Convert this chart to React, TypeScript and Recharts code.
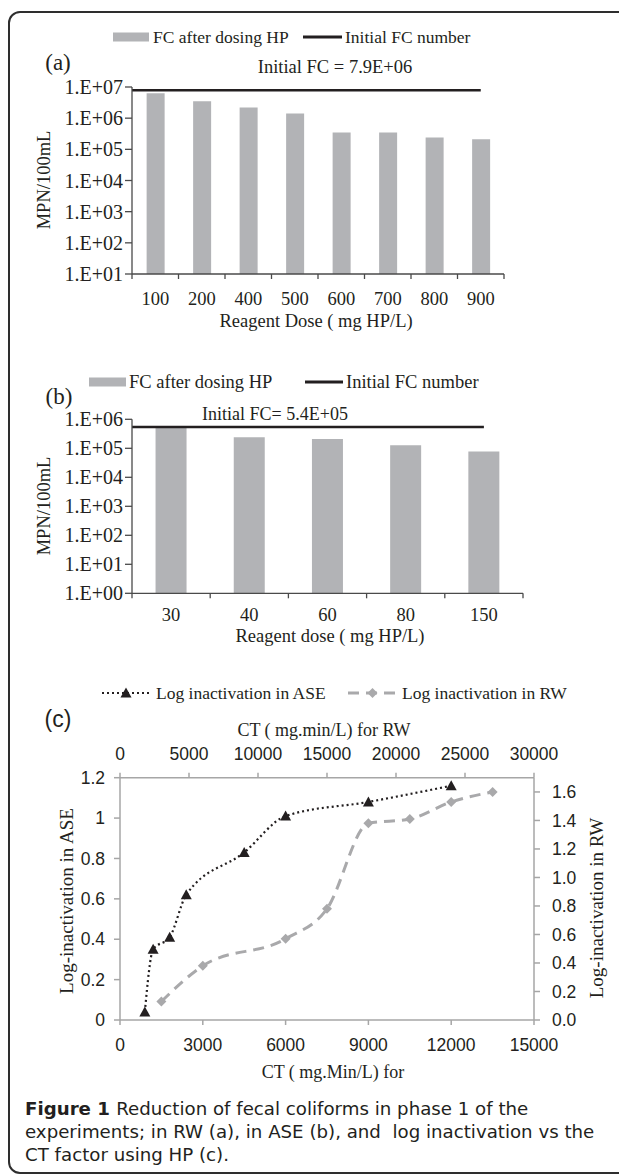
import React from 'react';
import { ComposedChart, Bar, Line, XAxis, YAxis, Legend } from 'recharts';

const SERIF = '"Liberation Serif", "Times New Roman", serif';
const SANS = '"Liberation Sans", Arial, sans-serif';
const CAPTION_FONT = '"DejaVu Sans", "Open Sans", sans-serif';
const INK = '#231f20';
const BAR_GRAY = '#b2b3b6';
const AXIS_DARK = '#4a4a4a';
const AXIS_GRAY = '#a6a6a6';
const RW_GRAY = '#a9a9ab';

// (a) raw water
const dosesA = ['100', '200', '400', '500', '600', '700', '800', '900'];
const fcA = [6.3e6, 3.5e6, 2.2e6, 1.4e6, 3.5e5, 3.5e5, 2.4e5, 2.1e5];
const initialA = 7.9e6;
const logTicksA = [1e1, 1e2, 1e3, 1e4, 1e5, 1e6, 1e7];

// (b) ASE
const dosesB = ['30', '40', '60', '80', '150'];
const fcB = [5.0e5, 2.4e5, 2.1e5, 1.27e5, 7.7e4];
const initialB = 5.4e5;
const logTicksB = [1, 1e1, 1e2, 1e3, 1e4, 1e5, 1e6];

// (c) log inactivation vs CT
const ctAse = [900, 1200, 1800, 2400, 4500, 6000, 9000, 12000];
const logAse = [0.04, 0.35, 0.41, 0.62, 0.83, 1.01, 1.08, 1.16];
const ctRw = [3000, 6000, 12000, 15000, 18000, 21000, 24000, 27000];
const logRw = [0.13, 0.38, 0.57, 0.78, 1.38, 1.41, 1.53, 1.6];
const ctTicksAse = [0, 3000, 6000, 9000, 12000, 15000];
const ctTicksRw = [0, 5000, 10000, 15000, 20000, 25000, 30000];
const logTicksAse = [0, 0.2, 0.4, 0.6, 0.8, 1, 1.2];
const logTicksRw = [0, 0.2, 0.4, 0.6, 0.8, 1, 1.2, 1.4, 1.6];

const captionLines = [
  'Reduction of fecal coliforms in phase 1 of the',
  'experiments; in RW (a), in ASE (b), and  log inactivation vs the',
  'CT factor using HP (c).',
];

const barRows = (doses: string[], fc: number[]) =>
  doses.map((dose, i) => ({ pos: i + 0.5, dose, fc: fc[i] }));
const initialRows = (n: number, v: number) => [
  { pos: 0, v },
  { pos: n - 0.5, v },
];
const halfTicks = (n: number) => Array.from({ length: 2 * n + 1 }, (_, k) => k / 2);
const expLabel = (v: number) => `1.E+${String(Math.round(Math.log10(v))).padStart(2, '0')}`;

const aseRows = ctAse.map((ct, i) => ({ ct, v: logAse[i] }));
const rwRows = ctRw.map((ct, i) => ({ ct, v: logRw[i] }));

// category labels sit on half positions, tick marks on whole ones (between bars)
function makeCategoryTick(labels: string[], labelTop: number, size: number) {
  return (props: any) => {
    const { x, y, payload } = props;
    const v = payload.value as number;
    if (Number.isInteger(v)) {
      return <line x1={x} x2={x} y1={y} y2={y + 5} stroke={AXIS_DARK} strokeWidth={1.3} />;
    }
    return (
      <text x={x} y={y + labelTop} dy="0.71em" textAnchor="middle" fontFamily={SERIF} fontSize={size} fill={INK}>
        {labels[Math.floor(v)]}
      </text>
    );
  };
}

const TriangleDot = (props: any) => {
  const { cx, cy, index } = props;
  return <polygon key={`t-${index}`} points={`${cx},${cy - 5.5} ${cx + 5.5},${cy + 4.5} ${cx - 5.5},${cy + 4.5}`} fill={INK} />;
};

const DiamondDot = (props: any) => {
  const { cx, cy, index } = props;
  return <polygon key={`d-${index}`} points={`${cx},${cy - 5} ${cx + 5},${cy} ${cx},${cy + 5} ${cx - 5},${cy}`} fill={RW_GRAY} />;
};

type LegendItem = { label: string; icon: React.ReactNode; iconX: number; iconW: number; textX: number };

function LegendRow({ items, size }: { items: LegendItem[]; size: number }) {
  return (
    <div style={{ position: 'relative', width: 619, height: 24, fontFamily: SERIF, fontSize: size, color: INK }}>
      {items.map((it) => (
        <React.Fragment key={it.label}>
          <svg style={{ position: 'absolute', left: it.iconX, top: 0 }} width={it.iconW} height={24}>
            {it.icon}
          </svg>
          <span style={{ position: 'absolute', left: it.textX, top: 0, lineHeight: '24px', whiteSpace: 'nowrap' }}>
            {it.label}
          </span>
        </React.Fragment>
      ))}
    </div>
  );
}

const swatch = (w: number) => <rect x={0} y={7.5} width={w} height={9} fill={BAR_GRAY} />;
const solid = (w: number) => <line x1={0} x2={w} y1={12} y2={12} stroke={INK} strokeWidth={3} />;
const dottedTri = (w: number) => (
  <g>
    <line x1={0} x2={w} y1={12} y2={12} stroke={INK} strokeWidth={2.2} strokeDasharray="2 3" />
    {TriangleDot({ cx: w / 2, cy: 12, index: 0 })}
  </g>
);
const dashedDia = (w: number) => (
  <g>
    <line x1={0} x2={w} y1={12} y2={12} stroke={RW_GRAY} strokeWidth={3} strokeDasharray="11 7" />
    {DiamondDot({ cx: w / 2, cy: 12, index: 0 })}
  </g>
);

function Tag({ x, y, size, font = SERIF, rotate = false, children }: {
  x: number; y: number; size: number; font?: string; rotate?: boolean; children: React.ReactNode;
}) {
  return (
    <div
      style={{
        position: 'absolute',
        left: x,
        top: y,
        width: 'max-content',
        transform: `translate(-50%, -50%)${rotate ? ' rotate(-90deg)' : ''}`,
        fontFamily: font,
        fontSize: size,
        lineHeight: 1,
        whiteSpace: 'pre',
        color: INK,
      }}
    >
      {children}
    </div>
  );
}

export default function App() {
  const dataA = barRows(dosesA, fcA);
  const dataB = barRows(dosesB, fcB);
  const capStyle: React.CSSProperties = {
    position: 'absolute',
    left: 25,
    width: 'max-content',
    fontFamily: CAPTION_FONT,
    fontSize: 18.2,
    lineHeight: '23px',
    whiteSpace: 'pre',
    color: INK,
  };

  return (
    <div style={{ position: 'absolute', left: 0, top: 0, width: 619, height: 1176, overflow: 'hidden', background: '#fff' }}>
      <div
        style={{
          position: 'absolute',
          left: 8,
          top: 11,
          width: 700,
          height: 1163,
          boxSizing: 'border-box',
          border: '2px solid #2e2e2e',
          borderRadius: 12,
        }}
      />

      {/* (a) */}
      <div style={{ position: 'absolute', left: 0, top: 0 }}>
        <ComposedChart width={619} height={340} data={dataA} margin={{ top: 87, right: 115, bottom: 0, left: 0 }}>
          <XAxis
            dataKey="pos"
            type="number"
            domain={[0, dosesA.length]}
            ticks={halfTicks(dosesA.length)}
            interval={0}
            tickSize={0}
            tickMargin={0}
            tickLine={false}
            height={66}
            axisLine={{ stroke: AXIS_DARK, strokeWidth: 1.3 }}
            tick={makeCategoryTick(dosesA, 18, 18.5)}
          />
          <YAxis
            scale="log"
            domain={[1e1, 1e7]}
            ticks={logTicksA}
            interval={0}
            allowDataOverflow
            width={132}
            tickSize={7}
            tickMargin={2}
            tickFormatter={expLabel}
            axisLine={{ stroke: AXIS_DARK, strokeWidth: 1.3 }}
            tickLine={{ stroke: AXIS_DARK, strokeWidth: 1.3 }}
            tick={{ fontFamily: SERIF, fontSize: 20, fill: INK }}
          />
          <Bar dataKey="fc" name="FC after dosing HP" barSize={18} fill={BAR_GRAY} isAnimationActive={false} />
          <Line
            data={initialRows(dosesA.length, initialA)}
            dataKey="v"
            name="Initial FC number"
            stroke={INK}
            strokeWidth={2.6}
            dot={false}
            activeDot={false}
            isAnimationActive={false}
          />
          <Legend
            layout="vertical"
            align="center"
            verticalAlign="middle"
            wrapperStyle={{ left: 0, top: 25, width: 619, height: 24 }}
            content={() => (
              <LegendRow
                size={17.5}
                items={[
                  { label: 'FC after dosing HP', icon: swatch(36), iconX: 113, iconW: 36, textX: 153 },
                  { label: 'Initial FC number', icon: solid(39), iconX: 303, iconW: 39, textX: 345 },
                ]}
              />
            )}
          />
        </ComposedChart>
      </div>
      <Tag x={58} y={62} size={23}>(a)</Tag>
      <Tag x={335} y={67} size={18.5}>Initial FC = 7.9E+06</Tag>
      <Tag x={316} y={321} size={18.5}>Reagent Dose ( mg HP/L)</Tag>
      <Tag x={44} y={180} size={18.5} rotate>MPN/100mL</Tag>

      {/* (b) */}
      <div style={{ position: 'absolute', left: 0, top: 340 }}>
        <ComposedChart width={619} height={340} data={dataB} margin={{ top: 79.3, right: 96, bottom: 0, left: 0 }}>
          <XAxis
            dataKey="pos"
            type="number"
            domain={[0, dosesB.length]}
            ticks={halfTicks(dosesB.length)}
            interval={0}
            tickSize={0}
            tickMargin={0}
            tickLine={false}
            height={86.7}
            axisLine={{ stroke: AXIS_DARK, strokeWidth: 1.3 }}
            tick={makeCategoryTick(dosesB, 15, 18.5)}
          />
          <YAxis
            scale="log"
            domain={[1, 1e6]}
            ticks={logTicksB}
            interval={0}
            allowDataOverflow
            width={132}
            tickSize={7}
            tickMargin={2}
            tickFormatter={expLabel}
            axisLine={{ stroke: AXIS_DARK, strokeWidth: 1.3 }}
            tickLine={{ stroke: AXIS_DARK, strokeWidth: 1.3 }}
            tick={{ fontFamily: SERIF, fontSize: 20, fill: INK }}
          />
          <Bar dataKey="fc" name="FC after dosing HP" barSize={31} fill={BAR_GRAY} isAnimationActive={false} />
          <Line
            data={initialRows(dosesB.length, initialB)}
            dataKey="v"
            name="Initial FC number"
            stroke={INK}
            strokeWidth={2.6}
            dot={false}
            activeDot={false}
            isAnimationActive={false}
          />
          <Legend
            layout="vertical"
            align="center"
            verticalAlign="middle"
            wrapperStyle={{ left: 0, top: 30, width: 619, height: 24 }}
            content={() => (
              <LegendRow
                size={18.5}
                items={[
                  { label: 'FC after dosing HP', icon: swatch(37), iconX: 89, iconW: 37, textX: 129 },
                  { label: 'Initial FC number', icon: solid(38), iconX: 305, iconW: 38, textX: 346 },
                ]}
              />
            )}
          />
        </ComposedChart>
      </div>
      <Tag x={59} y={396} size={23}>(b)</Tag>
      <Tag x={275} y={414} size={18}>Initial FC= 5.4E+05</Tag>
      <Tag x={330} y={636} size={18.5}>Reagent dose ( mg HP/L)</Tag>
      <Tag x={44} y={506} size={18.5} rotate>MPN/100mL</Tag>

      {/* (c) */}
      <div style={{ position: 'absolute', left: 0, top: 680 }}>
        <ComposedChart width={619} height={400} margin={{ top: 0, right: 0, bottom: 0, left: 0 }}>
          <XAxis
            xAxisId="rw"
            orientation="top"
            dataKey="ct"
            type="number"
            domain={[0, 30000]}
            ticks={ctTicksRw}
            interval={0}
            height={97.7}
            tickSize={5}
            tickMargin={13}
            axisLine={{ stroke: AXIS_GRAY, strokeWidth: 1.5 }}
            tickLine={{ stroke: AXIS_GRAY, strokeWidth: 1.5 }}
            tick={{ fontFamily: SANS, fontSize: 17.5, fill: INK }}
          />
          <XAxis
            xAxisId="ase"
            dataKey="ct"
            type="number"
            domain={[0, 15000]}
            ticks={ctTicksAse}
            interval={0}
            height={60}
            tickSize={5}
            tickMargin={14}
            axisLine={{ stroke: AXIS_GRAY, strokeWidth: 1.5 }}
            tickLine={{ stroke: AXIS_GRAY, strokeWidth: 1.5 }}
            tick={{ fontFamily: SANS, fontSize: 17.5, fill: INK }}
          />
          <YAxis
            yAxisId="ase"
            domain={[0, 1.2]}
            ticks={logTicksAse}
            interval={0}
            width={120}
            tickSize={6}
            tickMargin={9}
            tickFormatter={(v: number) => String(v)}
            axisLine={{ stroke: AXIS_GRAY, strokeWidth: 1.5 }}
            tickLine={{ stroke: AXIS_GRAY, strokeWidth: 1.5 }}
            tick={{ fontFamily: SANS, fontSize: 17.5, fill: INK }}
          />
          <YAxis
            yAxisId="rw"
            orientation="right"
            domain={[0, 1.7]}
            ticks={logTicksRw}
            interval={0}
            width={85}
            tickSize={6}
            tickMargin={12}
            tickFormatter={(v: number) => v.toFixed(1)}
            axisLine={{ stroke: AXIS_GRAY, strokeWidth: 1.5 }}
            tickLine={{ stroke: AXIS_GRAY, strokeWidth: 1.5 }}
            tick={{ fontFamily: SANS, fontSize: 17.5, fill: INK }}
          />
          <Line
            xAxisId="rw"
            yAxisId="rw"
            data={rwRows}
            dataKey="v"
            name="Log inactivation in RW"
            type="monotone"
            stroke={RW_GRAY}
            strokeWidth={3}
            strokeDasharray="11 7"
            dot={DiamondDot}
            activeDot={false}
            isAnimationActive={false}
          />
          <Line
            xAxisId="ase"
            yAxisId="ase"
            data={aseRows}
            dataKey="v"
            name="Log inactivation in ASE"
            type="monotone"
            stroke={INK}
            strokeWidth={2.2}
            strokeDasharray="2 3"
            dot={TriangleDot}
            activeDot={false}
            isAnimationActive={false}
          />
          <Legend
            layout="vertical"
            align="center"
            verticalAlign="middle"
            wrapperStyle={{ left: 0, top: 1, width: 619, height: 24 }}
            content={() => (
              <LegendRow
                size={17.5}
                items={[
                  { label: 'Log inactivation in ASE', icon: dottedTri(48), iconX: 102, iconW: 48, textX: 156 },
                  { label: 'Log inactivation in RW', icon: dashedDia(49), iconX: 348, iconW: 49, textX: 402 },
                ]}
              />
            )}
          />
        </ComposedChart>
      </div>
      <Tag x={58} y={719} size={23} font={SANS}>(c)</Tag>
      <Tag x={324} y={730} size={18}>CT ( mg.min/L) for RW</Tag>
      <Tag x={333} y={1072} size={18}>CT ( mg.Min/L) for</Tag>
      <Tag x={66} y={901} size={19} rotate>Log-inactivation in ASE</Tag>
      <Tag x={596} y={908} size={19} rotate>Log-inactivation in RW</Tag>

      {captionLines.map((line, i) => (
        <div key={i} style={{ ...capStyle, top: 1097 + i * 23 }}>
          {i === 0 && <span style={{ fontWeight: 700 }}>Figure 1 </span>}
          <span>{line}</span>
        </div>
      ))}
    </div>
  );
}
